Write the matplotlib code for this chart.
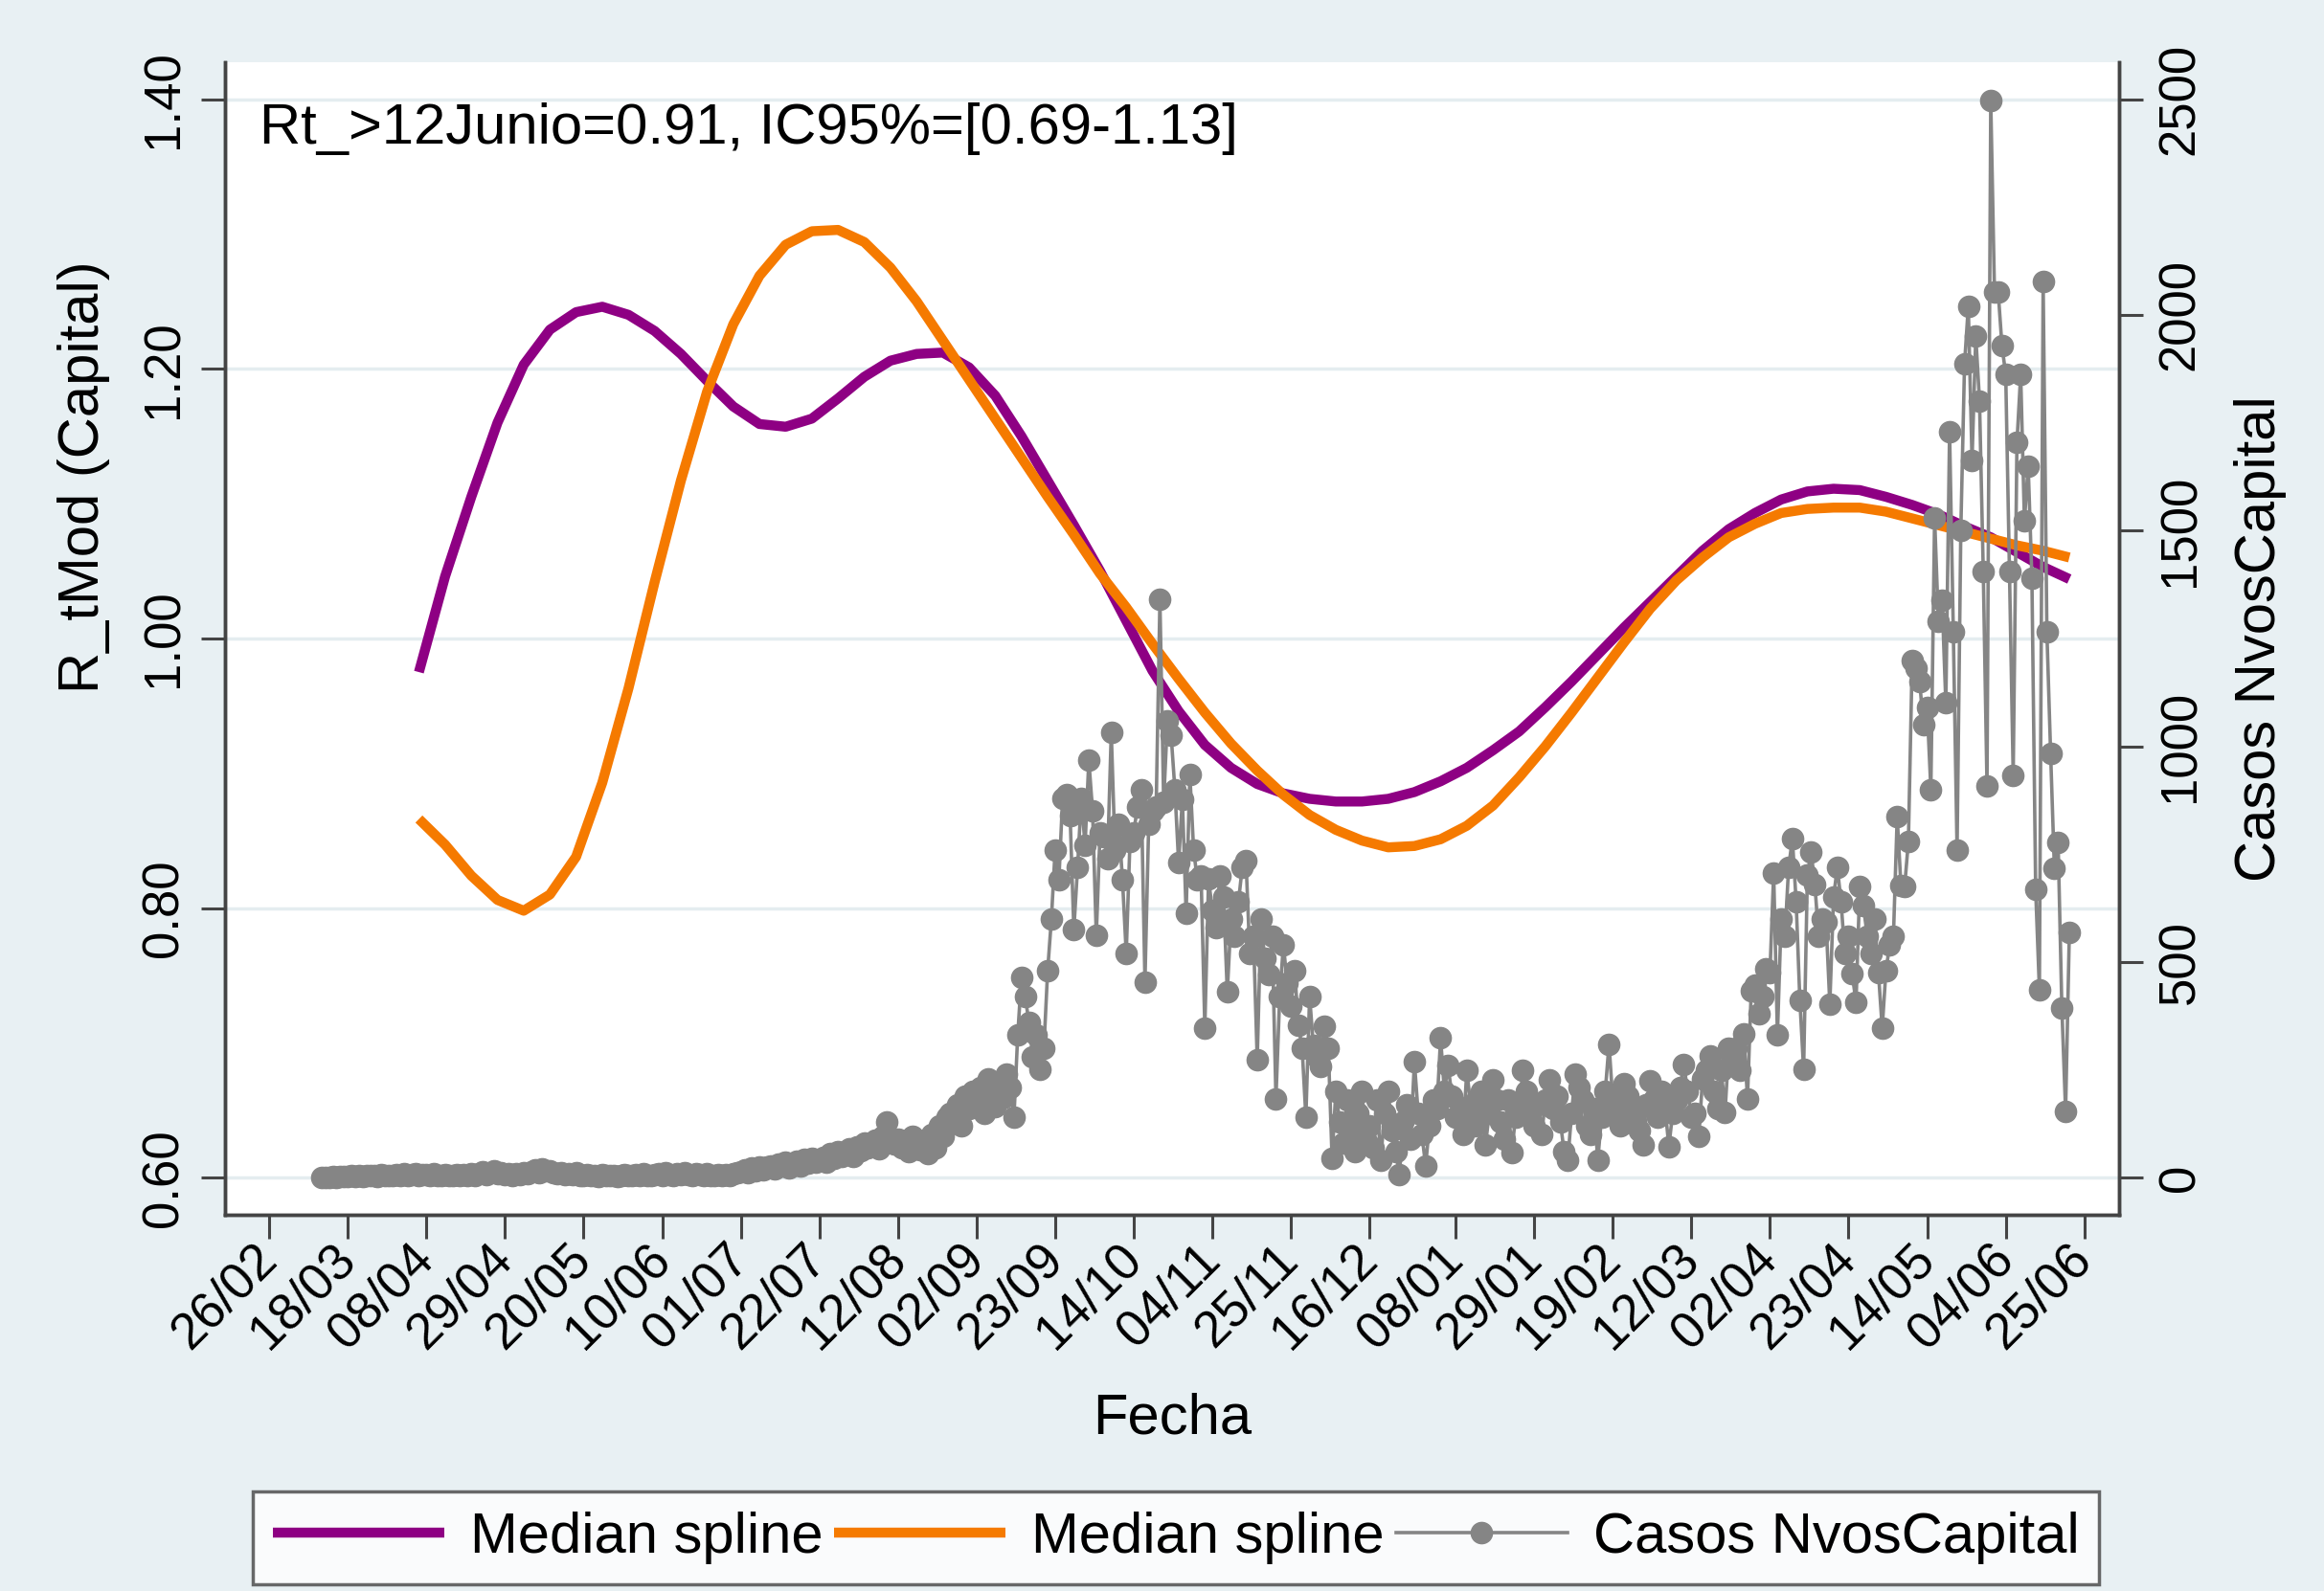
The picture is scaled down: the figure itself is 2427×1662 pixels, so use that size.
import matplotlib
matplotlib.use('Agg')
import matplotlib.pyplot as plt
import matplotlib.dates as mdates
import pandas as pd

plt.rcParams['font.family'] = ['Liberation Sans', 'DejaVu Sans']

# --- data ---
spline_start = '2020-04-06'   # weekly values
median_purple = [0.975, 1.046, 1.105, 1.160, 1.203, 1.229, 1.242, 1.246, 1.240, 1.228,
                 1.211, 1.191, 1.172, 1.159, 1.157, 1.163, 1.178, 1.194, 1.206, 1.211,
                 1.212, 1.201, 1.180, 1.150, 1.117, 1.084, 1.050, 1.013, 0.976, 0.946,
                 0.921, 0.904, 0.892, 0.885, 0.881, 0.879, 0.879, 0.881, 0.886, 0.894,
                 0.904, 0.917, 0.931, 0.949, 0.968, 0.988, 1.008, 1.027, 1.046, 1.065,
                 1.081, 1.093, 1.103, 1.109, 1.111, 1.110, 1.105, 1.099, 1.092, 1.083,
                 1.075, 1.064, 1.053, 1.044]
median_orange = [0.866, 0.847, 0.824, 0.806, 0.798, 0.810, 0.838, 0.893, 0.963, 1.042,
                 1.117, 1.183, 1.233, 1.269, 1.292, 1.302, 1.303, 1.294, 1.275, 1.250,
                 1.221, 1.192, 1.163, 1.134, 1.105, 1.077, 1.048, 1.023, 0.996, 0.970,
                 0.945, 0.922, 0.902, 0.884, 0.869, 0.858, 0.850, 0.845, 0.846, 0.851,
                 0.861, 0.876, 0.897, 0.920, 0.945, 0.971, 0.997, 1.022, 1.043, 1.060,
                 1.075, 1.085, 1.093, 1.096, 1.097, 1.097, 1.094, 1.089, 1.084, 1.079,
                 1.074, 1.069, 1.065, 1.060]

casos_start = '2020-03-11'    # daily values
casos = (
    [0, 1, 0, 2, 1, 3, 2] + [2, 4, 3, 5, 2, 6, 4] + [5, 3, 7, 4, 6, 5, 8] +
    [6, 9, 5, 7, 10, 6, 8] + [7, 5, 9, 6, 4, 8, 6] + [5, 7, 4, 8, 6, 9, 5] +
    [10, 14, 8, 12, 16, 9, 11] + [7, 9, 6, 10, 8, 12, 9] + [14, 18, 12, 20, 15, 17, 11] +
    [9, 12, 8, 10, 7, 11, 6] + [5, 8, 4, 6, 3, 7, 5] + [4, 6, 3, 5, 8, 4, 6] +
    [7, 5, 9, 6, 4, 8, 10] + [6, 12, 8, 5, 9, 7, 11] + [8, 6, 10, 7, 5, 9, 6] +
    [4, 7, 5, 8, 6, 10, 12] + [14, 18, 12, 22, 16, 25, 19] + [24, 28, 20, 32, 26, 35, 22] +
    [30, 38, 27, 42, 33, 45, 36] + [40, 48, 35, 55, 44, 60, 50] + [58, 66, 50, 72, 62, 80, 70] +
    [75, 88, 68, 95, 130, 85, 78] + [90, 70, 82, 60, 95, 75, 65] + [85, 55, 100, 70, 120, 95, 140] +
    [150, 130, 170, 120, 190, 160, 200] + [175, 210, 150, 230, 190, 165, 220] +
    [185, 240, 210, 141, 330, 465, 420] + [360, 280, 330, 251, 300, 480, 599] +
    [760, 690, 880, 888, 840, 575, 720] + [880, 770, 968, 850, 561, 800, 790] +
    [740, 1032, 760, 820, 690, 520, 780] + [800, 860, 900, 454, 820, 850, 860] +
    [1340, 870, 1060, 1025, 900, 730, 878] + [613, 935, 760, 690, 700, 347, 692] +
    [620, 580, 700, 650, 430, 600, 560] + [640, 720, 736, 520, 560, 273, 599] +
    [508, 470, 560, 183, 420, 540, 450] + [397, 480, 354, 300, 141, 420, 306] +
    [280, 258, 350, 300, 45, 200, 130] + [80, 180, 110, 60, 150, 200, 90] +
    [120, 70, 180, 40, 150, 200, 110] + [60, 7, 130, 170, 90, 268, 150] +
    [100, 28, 120, 180, 160, 324, 200] + [260, 190, 140, 150, 100, 248, 170] +
    [120, 160, 200, 76, 150, 227, 180] + [130, 90, 180, 58, 140, 160, 248] +
    [200, 150, 120, 170, 100, 180, 227] + [160, 190, 130, 60, 41, 150, 241] +
    [210, 180, 120, 100, 160, 41, 140] + [200, 310, 180, 150, 120, 217, 190] +
    [160, 130, 110, 76, 170, 224, 180] + [140, 200, 160, 72, 150, 180, 210] +
    [262, 200, 140, 150, 96, 230, 250] + [282, 200, 160, 250, 151, 300, 280] +
    [300, 250, 334, 183, 434, 447, 380] + [420, 485, 475, 706, 330, 600, 560] +
    [720, 785, 640, 410, 251, 702, 754] + [680, 560, 600, 592, 403, 650, 719] +
    [640, 520, 560, 472, 406, 675, 630] + [560, 520, 600, 475, 347, 480, 540] +
    [560, 836, 678, 676, 780, 1198, 1180] + [1150, 1050, 1091, 900, 1530, 1290, 1339] +
    [1100, 1729, 1265, 759, 1500, 1887, 2019] + [1663, 1950, 1800, 1406, 908, 2497, 2052] +
    [2052, 1928, 1862, 1406, 933, 1704, 1862] + [1522, 1650, 1389, 668, 436, 2077, 1265] +
    [983, 718, 776, 394, 154, 568]
)

tick_dates = ['2020-02-26', '2020-03-18', '2020-04-08', '2020-04-29', '2020-05-20',
              '2020-06-10', '2020-07-01', '2020-07-22', '2020-08-12', '2020-09-02',
              '2020-09-23', '2020-10-14', '2020-11-04', '2020-11-25', '2020-12-16',
              '2021-01-08', '2021-01-29', '2021-02-19', '2021-03-12', '2021-04-02',
              '2021-04-23', '2021-05-14', '2021-06-04', '2021-06-25']
left_ticks = [0.60, 0.80, 1.00, 1.20, 1.40]
right_ticks = [0, 500, 1000, 1500, 2000, 2500]

spline_dates = pd.date_range(spline_start, periods=len(median_purple), freq='7D')
casos_dates = pd.date_range(casos_start, periods=len(casos), freq='D')

bg = '#e8f0f3'
axis_col = '#444444'
grid_col = '#e4edf0'
purple = '#8e0083'
orange = '#f57a00'
gray = '#858585'

fig = plt.figure(figsize=(24.27, 16.62), dpi=100, facecolor=bg)
ax = fig.add_axes([0.097, 0.2365, 0.815, 0.7245])
ax.set_facecolor('white')
ax2 = ax.twinx()

l1, = ax.plot(spline_dates, median_purple, color=purple, lw=7.5, solid_capstyle='butt',
              solid_joinstyle='round', label='Median spline', zorder=3)
l2, = ax.plot(spline_dates, median_orange, color=orange, lw=7.5, solid_capstyle='butt',
              solid_joinstyle='round', label='Median spline', zorder=3)
l3, = ax2.plot(casos_dates, casos, color=gray, lw=2.6, marker='o', ms=16, mec=gray, mfc=gray,
               label='Casos NvosCapital')

ylo, yhi = 0.5725, 1.4275
ax.set_ylim(ylo, yhi)
ax2.set_ylim((ylo - 0.6) * 3125, (yhi - 0.6) * 3125)
ax.set_xlim(pd.Timestamp('2020-02-26') - pd.Timedelta(days=11.7),
            pd.Timestamp('2020-02-26') + pd.Timedelta(days=494.4))

for g in left_ticks:
    ax.axhline(g, color=grid_col, lw=2.5, zorder=0)

ax.set_yticks(left_ticks)
ax.set_yticklabels(['%.2f' % t for t in left_ticks], rotation=90, va='center')
ax2.set_yticks(right_ticks)
ax2.set_yticklabels([str(t) for t in right_ticks], rotation=90, va='center')

ax.set_xticks(pd.to_datetime(tick_dates))
ax.xaxis.set_major_formatter(mdates.DateFormatter('%d/%m'))
for lab in ax.get_xticklabels():
    lab.set_rotation(45)
    lab.set_ha('right')
    lab.set_va('center')
    lab.set_rotation_mode('anchor')

for a in (ax, ax2):
    a.spines['top'].set_visible(False)
    for s in ('left', 'right', 'bottom'):
        a.spines[s].set_color(axis_col)
        a.spines[s].set_linewidth(2.5)
    a.tick_params(length=18, width=2.2, color=axis_col, labelsize=38)
ax.tick_params(axis='x', pad=10)
ax.tick_params(axis='y', pad=10)
ax2.tick_params(axis='y', pad=10)

ax.set_xlabel('Fecha', fontsize=43, labelpad=26)
ax.set_ylabel('R_tMod (Capital)', fontsize=43)
ax.yaxis.set_label_coords(-0.061, 0.64)
ax2.set_ylabel('Casos NvosCapital', fontsize=43, labelpad=22)

ax.text(0.018, 0.942, 'Rt_>12Junio=0.91, IC95%=[0.69-1.13]', transform=ax.transAxes,
        fontsize=43, va='center', ha='left')

leg = fig.legend(handles=[l1, l2, l3], loc='center', bbox_to_anchor=(0.506, 0.0335),
                 ncol=3, fontsize=43, frameon=True, fancybox=False, handlelength=3,
                 handletextpad=0.45, columnspacing=0.2, borderpad=0.35)
leg.get_frame().set_edgecolor(axis_col)
leg.get_frame().set_linewidth(2.5)

fig.savefig('out.png', dpi=100, facecolor=bg)
